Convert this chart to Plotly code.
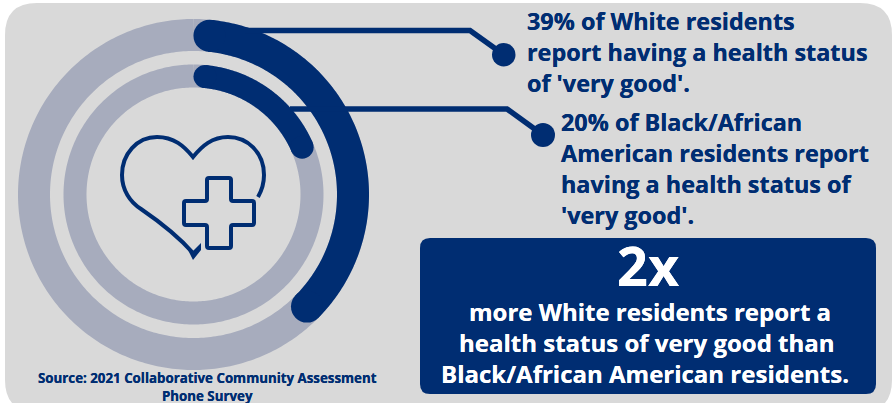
import numpy as np
import plotly.graph_objects as go

W, H = 893, 403
groups = ["White residents", "Black/African American residents"]
percent_very_good = [39, 20]
ring_radius = [159.5, 118.5]
ring_width = [32, 23]
NAVY = "#002D72"
RING = "#A7ACBD"
BG = "#D9D9D9"

lines_white = ["39% of White residents", "report having a health status", "of 'very good'."]
lines_black = ["20% of Black/African", "American residents report", "having a health status of", "'very good'."]
lines_box = ["more White residents report a", "health status of very good than", "Black/African American residents."]
multiplier = "2x"
source_lines = ["Source: 2021 Collaborative Community Assessment", "Phone Survey"]

CX, CY, RMAX = 193.5, 194.5, 190


def px(x):
    return x / W


def py(y):
    return 1 - y / H


def rounded(x0, y0, x1, y1, r):
    return (f"M {px(x0+r)} {py(y0)} L {px(x1-r)} {py(y0)} Q {px(x1)} {py(y0)} {px(x1)} {py(y0+r)} "
            f"L {px(x1)} {py(y1-r)} Q {px(x1)} {py(y1)} {px(x1-r)} {py(y1)} "
            f"L {px(x0+r)} {py(y1)} Q {px(x0)} {py(y1)} {px(x0)} {py(y1-r)} "
            f"L {px(x0)} {py(y0+r)} Q {px(x0)} {py(y0)} {px(x0+r)} {py(y0)} Z")


def svg(cmds):
    out = []
    for c in cmds:
        out.append(c[0])
        v = c[1:]
        for i in range(0, len(v), 2):
            out.append(f"{px(v[i])} {py(v[i+1])}")
    return " ".join(out)


fig = go.Figure()

# background rings
for r, w in zip(ring_radius, ring_width):
    fig.add_trace(go.Scatterpolar(r=[r] * 361, theta=np.arange(361), mode="lines",
                                  line=dict(color=RING, width=w), hoverinfo="skip", showlegend=False))

# value arcs with round ends
for name, pct, r, w in zip(groups, percent_very_good, ring_radius, ring_width):
    cap = np.degrees((w / 2) / r)
    th = np.linspace(cap, pct * 3.6 - cap, 200)
    fig.add_trace(go.Scatterpolar(r=[r] * len(th), theta=th, mode="lines", name=name,
                                  line=dict(color=NAVY, width=w), showlegend=False))
    fig.add_trace(go.Scatterpolar(r=[r, r], theta=[th[0], th[-1]], mode="markers", name=name,
                                  marker=dict(color=NAVY, size=w, line=dict(width=0)), showlegend=False))

ICON_W = 4
shapes = [
    dict(type="path", xref="paper", yref="paper", layer="below", line=dict(width=0), fillcolor=BG,
         path=rounded(5, 3, 892, 412, 32)),
    dict(type="path", xref="paper", yref="paper", layer="below", line=dict(width=0), fillcolor=NAVY,
         path=rounded(420, 238, 876, 394, 10)),
    # connectors
    dict(type="path", xref="paper", yref="paper", line=dict(color=NAVY, width=5.5),
         path=svg([("M", 245, 30.5), ("L", 470, 30.5), ("L", 503.5, 54.5)])),
    dict(type="path", xref="paper", yref="paper", line=dict(color=NAVY, width=5.5),
         path=svg([("M", 290, 109), ("L", 507, 109), ("L", 543, 135)])),
    dict(type="circle", xref="paper", yref="paper", line=dict(width=0), fillcolor=NAVY,
         x0=px(492), x1=px(515.5), y0=py(43), y1=py(66.5)),
    dict(type="circle", xref="paper", yref="paper", line=dict(width=0), fillcolor=NAVY,
         x0=px(531), x1=px(555), y0=py(123), y1=py(147)),
    # heart
    dict(type="path", xref="paper", yref="paper", line=dict(color=NAVY, width=ICON_W),
         path=svg([("M", 258, 197), ("C", 262, 190, 264, 184, 264, 175), ("C", 264, 152, 247, 137, 228, 137),
                   ("C", 212, 137, 202, 146, 193, 157), ("C", 184, 146, 174, 137, 157, 137),
                   ("C", 137, 137, 122, 154, 122, 175), ("C", 122, 190, 130, 202, 141, 209),
                   ("C", 160, 222, 178, 236, 193, 253)])),
    dict(type="path", xref="paper", yref="paper", line=dict(width=0), fillcolor=NAVY,
         path=svg([("M", 187, 248), ("L", 193, 260), ("L", 201, 250), ("L", 201, 243), ("L", 193, 251), ("Z",)])),
    # cross
    dict(type="path", xref="paper", yref="paper", line=dict(color=NAVY, width=ICON_W),
         path=svg([("M", 209, 178), ("L", 229, 178), ("Q", 231, 178, 231, 180), ("L", 231, 199),
                   ("Q", 231, 201, 233, 201), ("L", 252, 201), ("Q", 254, 201, 254, 203), ("L", 254, 223),
                   ("Q", 254, 225, 252, 225), ("L", 233, 225), ("Q", 231, 225, 231, 227), ("L", 231, 246),
                   ("Q", 231, 248, 229, 248), ("L", 209, 248), ("Q", 207, 248, 207, 246), ("L", 207, 227),
                   ("Q", 207, 225, 205, 225), ("L", 186, 225), ("Q", 184, 225, 184, 223), ("L", 184, 203),
                   ("Q", 184, 201, 186, 201), ("L", 205, 201), ("Q", 207, 201, 207, 199), ("L", 207, 180),
                   ("Q", 207, 178, 209, 178), ("Z",)])),
]

FONT = "Open Sans"


def label(text, x, y, size, color=NAVY, anchor="left"):
    return dict(text=f"<b>{text}</b>", x=px(x), y=py(y), xref="paper", yref="paper", xanchor=anchor,
                yanchor="middle", showarrow=False,
                font=dict(family=FONT, size=size, color=color, shadow=f"0 0 0.5px {color}"),
                borderpad=0, borderwidth=0)


annotations = []
for t, y in zip(lines_white, [21, 52, 83]):
    annotations.append(label(t, 527, y, 23.4))
for t, y in zip(lines_black, [122, 153, 184, 215]):
    annotations.append(label(t, 561, y, 23.4))
annotations.append(label(multiplier, 648, 265, 54, "white", "center"))
for t, y, x in zip(lines_box, [311, 342, 373], [650, 647, 645]):
    annotations.append(label(t, x, y, 24, "white", "center"))
for t, y in zip(source_lines, [378, 395.5]):
    annotations.append(label(t, 207.5, y, 13.3, NAVY, "center"))

fig.update_layout(
    width=W, height=H, margin=dict(l=0, r=0, t=0, b=0), paper_bgcolor="white", plot_bgcolor="white",
    showlegend=False, shapes=shapes, annotations=annotations,
    polar=dict(
        domain=dict(x=[(CX - RMAX) / W, (CX + RMAX) / W], y=[py(CY + RMAX), py(CY - RMAX)]),
        bgcolor="rgba(0,0,0,0)",
        radialaxis=dict(range=[0, RMAX], visible=False),
        angularaxis=dict(visible=False, rotation=90, direction="clockwise"),
    ),
)
fig.write_html("out.html", config={"displayModeBar": False},
               post_script="document.body.style.margin='0';document.body.style.overflow='hidden';")
